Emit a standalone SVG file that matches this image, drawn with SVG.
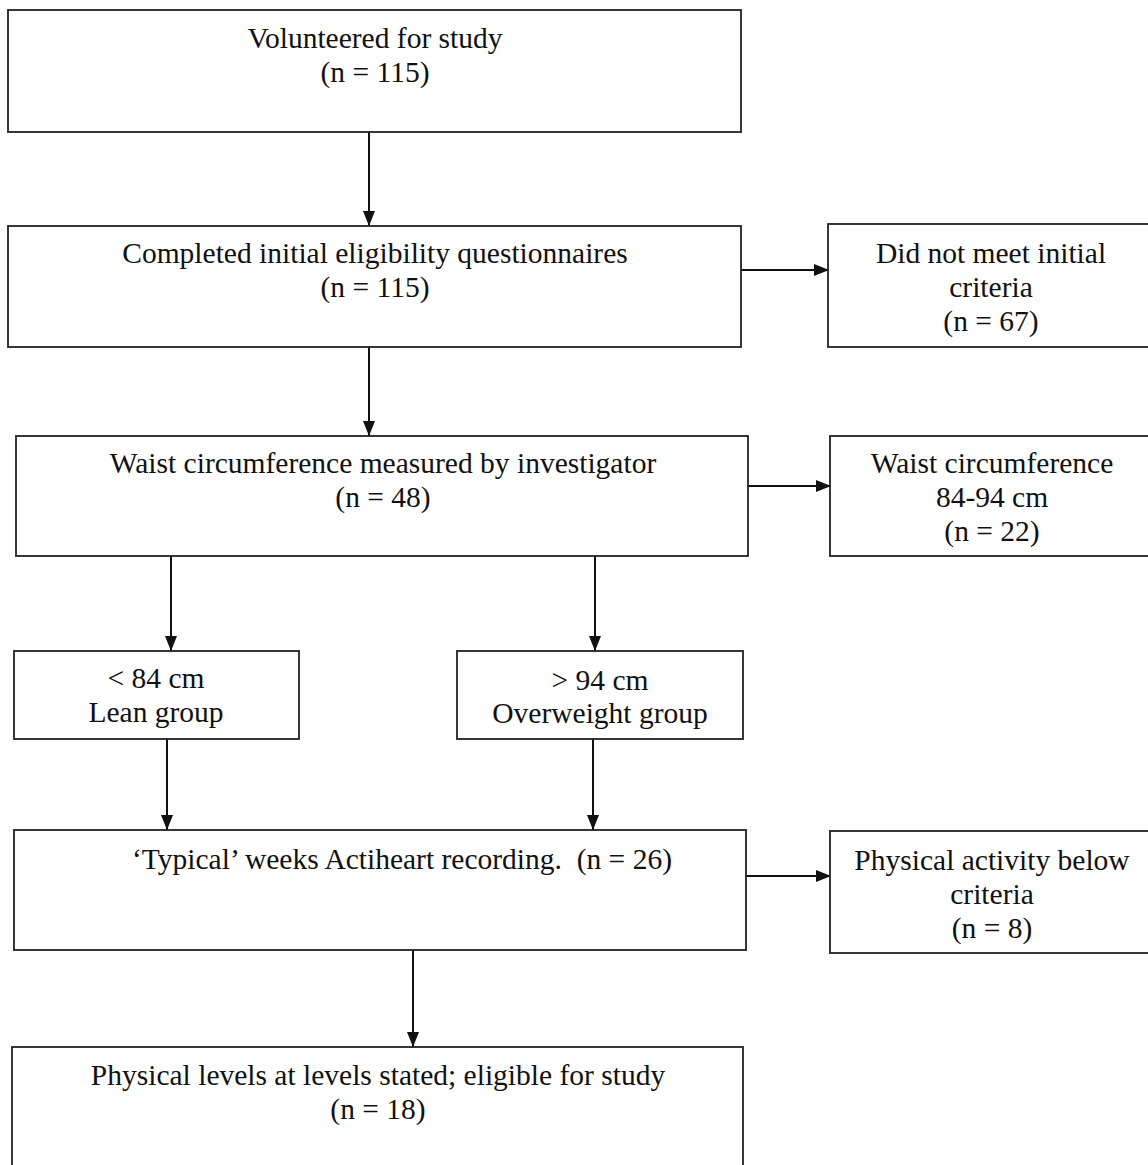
<svg xmlns="http://www.w3.org/2000/svg" width="1148" height="1165" viewBox="0 0 1148 1165">
<defs>
<marker id="ah" viewBox="0 0 15 12" refX="15" refY="6" markerWidth="15" markerHeight="12" markerUnits="userSpaceOnUse" orient="auto">
<path d="M0,0 L15,6 L0,12 Z" fill="#111"/>
</marker>
<style>
.box{fill:#fff;stroke:#222;stroke-width:1.8}
.t{font-family:"Liberation Serif","Times New Roman",serif;font-size:29.5px;fill:#111;text-anchor:middle}
.c{stroke:#111;stroke-width:2;fill:none;marker-end:url(#ah)}
</style>
</defs>
<rect width="1148" height="1165" fill="#fff"/>
<g id="connectors">
<line class="c" x1="369" y1="132" x2="369" y2="226"/>
<line class="c" x1="741" y1="270" x2="829" y2="270"/>
<line class="c" x1="369" y1="347" x2="369" y2="436"/>
<line class="c" x1="748" y1="486" x2="831" y2="486"/>
<line class="c" x1="171" y1="556" x2="171" y2="651"/>
<line class="c" x1="595" y1="556" x2="595" y2="651"/>
<line class="c" x1="167" y1="739" x2="167" y2="830"/>
<line class="c" x1="593" y1="739" x2="593" y2="830"/>
<line class="c" x1="746" y1="876" x2="831" y2="876"/>
<line class="c" x1="413" y1="950" x2="413" y2="1047"/>
</g>
<g id="volunteered">
<rect class="box" x="8" y="10" width="733" height="122"/>
<text class="t" x="375" y="48">Volunteered for study</text>
<text class="t" x="375" y="82">(n = 115)</text>
</g>
<g id="completed">
<rect class="box" x="8" y="226" width="733" height="121"/>
<text class="t" x="375" y="263">Completed initial eligibility questionnaires</text>
<text class="t" x="375" y="297">(n = 115)</text>
</g>
<g id="not-meet">
<rect class="box" x="828" y="224" width="330" height="123"/>
<text class="t" x="991" y="263">Did not meet initial</text>
<text class="t" x="991" y="297">criteria</text>
<text class="t" x="991" y="331">(n = 67)</text>
</g>
<g id="waist">
<rect class="box" x="16" y="436" width="732" height="120"/>
<text class="t" x="383" y="473">Waist circumference measured by investigator</text>
<text class="t" x="383" y="507">(n = 48)</text>
</g>
<g id="waist-mid">
<rect class="box" x="830" y="436" width="328" height="120"/>
<text class="t" x="992" y="473">Waist circumference</text>
<text class="t" x="992" y="507">84-94 cm</text>
<text class="t" x="992" y="541">(n = 22)</text>
</g>
<g id="lean">
<rect class="box" x="14" y="651" width="285" height="88"/>
<text class="t" x="156" y="688">&lt; 84 cm</text>
<text class="t" x="156" y="722">Lean group</text>
</g>
<g id="overweight">
<rect class="box" x="457" y="651" width="286" height="88"/>
<text class="t" x="600" y="690">&gt; 94 cm</text>
<text class="t" x="600" y="723">Overweight group</text>
</g>
<g id="typical">
<rect class="box" x="14" y="830" width="732" height="120"/>
<text class="t" x="402" y="869" xml:space="preserve">‘Typical’ weeks Actiheart recording.  (n = 26)</text>
</g>
<g id="below">
<rect class="box" x="830" y="831" width="328" height="122"/>
<text class="t" x="992" y="870">Physical activity below</text>
<text class="t" x="992" y="904">criteria</text>
<text class="t" x="992" y="938">(n = 8)</text>
</g>
<g id="eligible">
<rect class="box" x="12" y="1047" width="731" height="130"/>
<text class="t" x="378" y="1085">Physical levels at levels stated; eligible for study</text>
<text class="t" x="378" y="1119">(n = 18)</text>
</g>
</svg>
